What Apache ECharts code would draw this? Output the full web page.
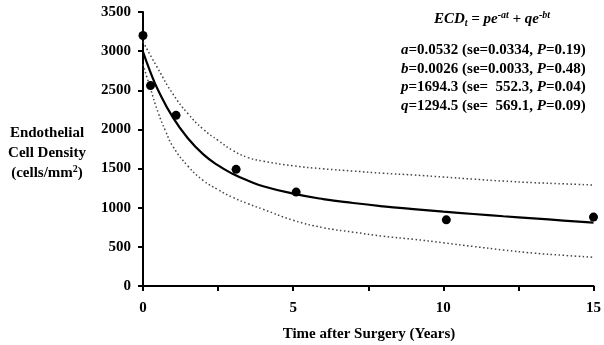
<!DOCTYPE html>
<html>
<head>
<meta charset="utf-8">
<script src="https://cdn.jsdelivr.net/npm/echarts@6/dist/echarts.min.js"></script>
<style>
    html, body { margin: 0; padding: 0; background: #fff; }
    #chart { width: 604px; height: 345px; }
</style>
</head>
<body>
<div id="chart"></div>
<script>
// 观测点 (年, 细胞密度)
let obsYears = [0, 0.25, 1.1, 3.1, 5.1, 10.1, 15];
let obsEcd = [3200, 2560, 2180, 1490, 1200, 845, 880];

// 拟合曲线
let fitYears = [0, 0.25, 0.5, 1, 1.5, 2, 2.5, 3, 3.5, 4, 5, 6, 7, 8, 9, 10, 11, 12, 13, 14, 15];
let fitEcd = [2990, 2730, 2505, 2150, 1885, 1685, 1540, 1430, 1345, 1275, 1180, 1110, 1060, 1018, 983, 950, 920, 891, 864, 836, 810];

// 置信区间上限
let upperYears = [0, 0.5, 1, 1.5, 2, 2.5, 3, 3.5, 4, 5, 6, 7, 8, 9, 10, 11, 12, 13, 14, 15];
let upperEcd = [3120, 2775, 2450, 2200, 2005, 1860, 1730, 1640, 1595, 1535, 1497, 1468, 1440, 1418, 1392, 1365, 1340, 1320, 1305, 1290];

// 置信区间下限
let lowerYears = [0, 0.25, 0.5, 0.75, 1, 1.5, 2, 2.5, 3, 3.5, 4, 5, 6, 7, 8, 9, 10, 11, 12, 13, 14, 15];
let lowerEcd = [2830, 2520, 2220, 1980, 1780, 1530, 1350, 1230, 1130, 1050, 980, 840, 745, 688, 636, 597, 552, 505, 460, 420, 392, 367];

// 坐标轴
let xTickLabels = ['0', '5', '10', '15'];
let yMax = 3500, yStep = 500;

function pairs(xs, ys) {
    return xs.map(function (x, i) { return [x, ys[i]]; });
}

let serif = '"Liberation Serif", "Times New Roman", serif';
let fs = 15;
let axisLine = { show: true, onZero: false, lineStyle: { color: '#000', width: 2 } };
let axisTick = { show: true, length: 5, inside: false, lineStyle: { color: '#000', width: 2 } };
let bandStyle = { color: '#444', width: 1.5, type: [1.5, 2.5] };

let myChart = echarts.init(document.getElementById('chart'), null, { renderer: 'canvas' });

let option = {
    animation: false,
    backgroundColor: '#fff',
    grid: { left: 143, right: 8, top: 12, bottom: 59 },
    xAxis: {
        type: 'value',
        min: 0,
        max: 15,
        interval: 2.5,
        axisLine: axisLine,
        axisTick: axisTick,
        splitLine: { show: false },
        axisLabel: {
            margin: 15,
            color: '#000',
            fontFamily: serif,
            fontWeight: 'bold',
            fontSize: fs,
            formatter: function (v) {
                let s = String(v);
                return xTickLabels.indexOf(s) >= 0 ? s : '';
            }
        }
    },
    yAxis: {
        type: 'value',
        min: 0,
        max: yMax,
        interval: yStep,
        axisLine: axisLine,
        axisTick: axisTick,
        splitLine: { show: false },
        axisLabel: {
            margin: 12,
            color: '#000',
            fontFamily: serif,
            fontWeight: 'bold',
            fontSize: fs,
            formatter: function (v) { return String(v); }
        }
    },
    series: [
        {
            type: 'line',
            data: pairs(upperYears, upperEcd),
            smooth: 0.5,
            showSymbol: false,
            lineStyle: bandStyle,
            z: 2
        },
        {
            type: 'line',
            data: pairs(lowerYears, lowerEcd),
            smooth: 0.5,
            showSymbol: false,
            lineStyle: bandStyle,
            z: 2
        },
        {
            type: 'line',
            data: pairs(fitYears, fitEcd),
            smooth: 0.5,
            showSymbol: false,
            lineStyle: { color: '#000', width: 2.2 },
            z: 3
        },
        {
            type: 'scatter',
            data: pairs(obsYears, obsEcd),
            symbol: 'circle',
            symbolSize: 9,
            itemStyle: { color: '#000', opacity: 1 },
            z: 4
        }
    ],
    graphic: [
        {
            type: 'text',
            x: 47,
            y: 153,
            style: {
                text: '{b|Endothelial}\n{b|Cell Density}\n{b|(cells/mm}{s|2}{b|)}',
                align: 'center',
                verticalAlign: 'middle',
                rich: {
                    b: { fontFamily: serif, fontWeight: 'bold', fontSize: fs, lineHeight: 20, fill: '#000' },
                    s: { fontFamily: serif, fontWeight: 'bold', fontSize: 10, lineHeight: 20, verticalAlign: 'top', fill: '#000', padding: [1, 0, 0, 0] }
                }
            }
        },
        {
            type: 'text',
            x: 369,
            y: 334,
            style: {
                text: 'Time after Surgery (Years)',
                align: 'center',
                verticalAlign: 'middle',
                fontFamily: serif,
                fontWeight: 'bold',
                fontSize: fs,
                fill: '#000'
            }
        },
        {
            type: 'text',
            x: 492,
            y: 19,
            style: {
                text: '{bi|ECD}{sub|t}{bi| = pe}{sup|-at}{bi| + qe}{sup|-bt}',
                align: 'center',
                verticalAlign: 'middle',
                rich: {
                    bi: { fontFamily: serif, fontWeight: 'bold', fontStyle: 'italic', fontSize: fs, lineHeight: 20, fill: '#000' },
                    sub: { fontFamily: serif, fontWeight: 'bold', fontStyle: 'italic', fontSize: 10, lineHeight: 20, verticalAlign: 'bottom', fill: '#000', padding: [0, 0, 1, 0] },
                    sup: { fontFamily: serif, fontWeight: 'bold', fontStyle: 'italic', fontSize: 10, lineHeight: 20, verticalAlign: 'top', fill: '#000', padding: [1, 0, 0, 0] }
                }
            }
        },
        {
            type: 'text',
            x: 401,
            y: 41,
            style: {
                text: '{i|a}{b|=0.0532 (se=0.0334, }{i|P}{b|=0.19)}\n' +
                      '{i|b}{b|=0.0026 (se=0.0033, }{i|P}{b|=0.48)}\n' +
                      '{i|p}{b|=1694.3 (se=  552.3, }{i|P}{b|=0.04)}\n' +
                      '{i|q}{b|=1294.5 (se=  569.1, }{i|P}{b|=0.09)}',
                align: 'left',
                verticalAlign: 'top',
                rich: {
                    b: { fontFamily: serif, fontWeight: 'bold', fontSize: fs, lineHeight: 18.5, fill: '#000' },
                    i: { fontFamily: serif, fontWeight: 'bold', fontStyle: 'italic', fontSize: fs, lineHeight: 18.5, fill: '#000' }
                }
            }
        }
    ]
};

myChart.setOption(option);
</script>
</body>
</html>
